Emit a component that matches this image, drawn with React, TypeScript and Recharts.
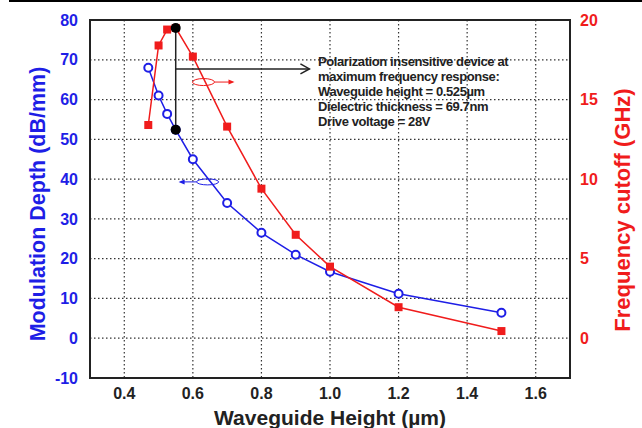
import React from "react";
import {
  LineChart,
  Line,
  XAxis,
  YAxis,
  CartesianGrid,
  ReferenceArea,
  ReferenceDot,
  ReferenceLine,
} from "recharts";

const BLUE = "#1e1ee6";
const RED = "#f01c1c";
const FONT = "'Liberation Sans', Arial, sans-serif";

// waveguide height (um)
const HEIGHTS = [0.47, 0.5, 0.525, 0.55, 0.6, 0.7, 0.8, 0.9, 1.0, 1.2, 1.5];
// modulation depth (dB/mm), left axis
const DEPTH = [68, 61, 56.4, 52.4, 45, 34, 26.5, 21, 16.7, 11.2, 6.4];
// frequency cutoff (GHz), right axis
const CUTOFF = [13.4, 18.4, 19.4, 19.5, 17.7, 13.3, 9.4, 6.5, 4.5, 1.95, 0.45];

const X_TICKS = [0.4, 0.6, 0.8, 1.0, 1.2, 1.4, 1.6];
const DEPTH_TICKS = [-10, 0, 10, 20, 30, 40, 50, 60, 70, 80];
const CUTOFF_TICKS = [0, 5, 10, 15, 20];

// optimum device (black markers)
const OPT_HEIGHT = 0.55;
const OPT_DEPTH = 52.4;
const OPT_CUTOFF = 19.5;

const NOTE = [
  "Polarization insensitive device at",
  "maximum frequency response:",
  "Waveguide height = 0.525\u00b5m",
  "Dielectric thickness = 69.7nm",
  "Drive voltage = 28V",
];

const rows = HEIGHTS.map((h, i) => ({ height: h, depth: DEPTH[i], cutoff: CUTOFF[i] }));

// map a cutoff value onto the left axis scale (-10..80 <-> -2.5..20)
const cutoffToDepth = (f: number) => -10 + (f + 2.5) * 4;

const Square = (props: any) => {
  const { cx, cy, index } = props;
  return <rect key={`sq-${index}`} x={cx - 4} y={cy - 4} width={8} height={8} fill={RED} />;
};

const Arrow = (props: any) => {
  const { x1, y1, x2, y2 } = props;
  return (
    <g>
      <line x1={x1} y1={y1} x2={x2} y2={y2} stroke="#222" strokeWidth={1.5} />
      <polyline
        points={`${x2 - 9},${y2 - 5} ${x2},${y2} ${x2 - 9},${y2 + 5}`}
        fill="none"
        stroke="#222"
        strokeWidth={1.5}
      />
    </g>
  );
};

const EllipseRight = (props: any) => {
  const { cx, cy } = props;
  return (
    <g>
      <ellipse cx={cx} cy={cy} rx={11} ry={3.5} fill="none" stroke={RED} strokeWidth={1} />
      <line x1={cx + 11} y1={cy} x2={cx + 29} y2={cy} stroke={RED} strokeWidth={1} />
      <polygon points={`${cx + 31},${cy} ${cx + 25},${cy - 2.5} ${cx + 25},${cy + 2.5}`} fill={RED} />
    </g>
  );
};

const EllipseLeft = (props: any) => {
  const { cx, cy } = props;
  return (
    <g>
      <ellipse cx={cx} cy={cy} rx={11} ry={3} fill="none" stroke={BLUE} strokeWidth={1} />
      <line x1={cx - 11} y1={cy} x2={cx - 27} y2={cy} stroke={BLUE} strokeWidth={1} />
      <polygon points={`${cx - 29},${cy} ${cx - 23},${cy - 2.5} ${cx - 23},${cy + 2.5}`} fill={BLUE} />
    </g>
  );
};

export default function App() {
  return (
    <div style={{ position: "absolute", left: 0, top: 0, width: 642, height: 428, background: "#fff", fontFamily: FONT }}>
      <div style={{ position: "absolute", left: 9, right: 0, top: 0, height: 2, background: "#000" }} />
      <LineChart width={642} height={428} data={rows} margin={{ top: 20, right: 0, bottom: 0, left: 0 }}>
        <CartesianGrid
          yAxisId="left"
          stroke="#333"
          strokeDasharray="1.5 2.5"
          strokeWidth={1.2}
        />
        <XAxis
          dataKey="height"
          type="number"
          domain={[0.3, 1.7]}
          ticks={X_TICKS}
          tickFormatter={(v: number) => v.toFixed(1)}
          height={50}
          axisLine={false}
          tickLine={false}
          tickMargin={4}
          tick={{ fill: "#222", fontSize: 16, fontWeight: 700, fontFamily: FONT }}
          label={{
            content: () => (
              <text x={330} y={425} textAnchor="middle" fill="#222" fontSize={21} fontWeight={700} fontFamily={FONT}>
                {"Waveguide Height (\u00b5m)"}
              </text>
            ),
          }}
        />
        <YAxis
          yAxisId="left"
          type="number"
          domain={[-10, 80]}
          ticks={DEPTH_TICKS}
          width={90}
          axisLine={false}
          tickLine={false}
          tickMargin={6}
          tick={{ fill: BLUE, fontSize: 16, fontWeight: 700, fontFamily: FONT }}
          label={{
            content: () => (
              <text
                x={38}
                y={204}
                transform="rotate(-90 38 204)"
                textAnchor="middle"
                dominantBaseline="central"
                fill={BLUE}
                fontSize={21.5}
                fontWeight={700}
                fontFamily={FONT}
              >
                Modulation Depth (dB/mm)
              </text>
            ),
          }}
        />
        <YAxis
          yAxisId="right"
          orientation="right"
          type="number"
          domain={[-2.5, 20]}
          ticks={CUTOFF_TICKS}
          width={72}
          axisLine={false}
          tickLine={false}
          tickMargin={4}
          tick={{ fill: RED, fontSize: 16, fontWeight: 700, fontFamily: FONT }}
          label={{
            content: () => (
              <text
                x={622}
                y={210}
                transform="rotate(-90 622 210)"
                textAnchor="middle"
                dominantBaseline="central"
                fill={RED}
                fontSize={22}
                fontWeight={700}
                fontFamily={FONT}
              >
                Frequency cutoff (GHz)
              </text>
            ),
          }}
        />
        <ReferenceArea
          yAxisId="left"
          x1={0.3}
          x2={1.7}
          y1={-10}
          y2={80}
          fill="none"
          fillOpacity={0}
          stroke="#222"
          strokeWidth={2}
        />
        <Line
          yAxisId="left"
          dataKey="depth"
          stroke={BLUE}
          strokeWidth={1.5}
          dot={{ r: 4, fill: "#fff", stroke: BLUE, strokeWidth: 2 }}
          isAnimationActive={false}
        />
        <Line
          yAxisId="right"
          dataKey="cutoff"
          stroke={RED}
          strokeWidth={1.5}
          dot={Square}
          isAnimationActive={false}
        />
        <ReferenceLine
          yAxisId="left"
          segment={[
            { x: OPT_HEIGHT, y: cutoffToDepth(OPT_CUTOFF) },
            { x: OPT_HEIGHT, y: OPT_DEPTH },
          ]}
          stroke="#222"
          strokeWidth={1.5}
        />
        <ReferenceLine
          yAxisId="left"
          segment={[
            { x: OPT_HEIGHT, y: 67.7 },
            { x: 0.94, y: 67.7 },
          ]}
          shape={Arrow}
        />
        <ReferenceDot yAxisId="right" x={0.631} y={16.1} shape={EllipseRight} />
        <ReferenceDot yAxisId="left" x={0.643} y={39.3} shape={EllipseLeft} />
        <ReferenceDot yAxisId="right" x={OPT_HEIGHT} y={OPT_CUTOFF} r={5} fill="#000" stroke="none" />
        <ReferenceDot yAxisId="left" x={OPT_HEIGHT} y={OPT_DEPTH} r={5} fill="#000" stroke="none" />
      </LineChart>
      <div
        style={{
          position: "absolute",
          left: 318,
          top: 54,
          fontSize: 13,
          lineHeight: "15px",
          fontWeight: 700,
          color: "#222",
          letterSpacing: -0.4,
          whiteSpace: "nowrap",
        }}
      >
        {NOTE.map((line) => (
          <div key={line}>{line}</div>
        ))}
      </div>
    </div>
  );
}
